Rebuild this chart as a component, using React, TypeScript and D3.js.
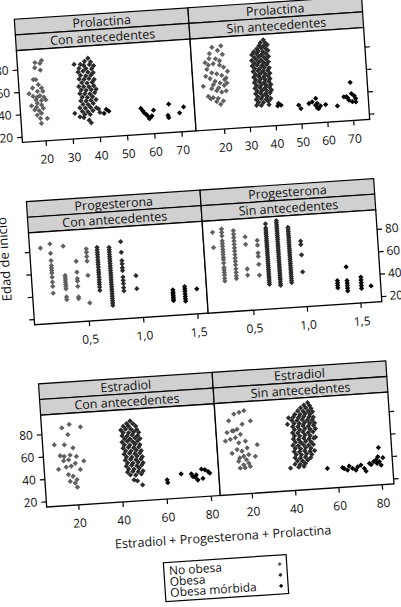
import React, { useRef, useEffect } from 'react';
import * as d3 from 'd3';

type Pt = [number, number];

// vertical stacks of points at one x value (progesterona is measured in steps)
const stack = (x: number, ys: number[]): Pt[] => ys.map(v => [x, v] as Pt);

const HORMONES = ['Prolactina', 'Progesterona', 'Estradiol'];
const ANTECEDENTES = ['Con antecedentes', 'Sin antecedentes'];
const GROUPS = ['No obesa', 'Obesa', 'Obesa mórbida'];

const TICKS_PRL = [20, 30, 40, 50, 60, 70];
const TICKS_PROG = [0.5, 1.0, 1.5];
const TICKS_EST = [20, 40, 60, 80];
const TICKS_EDAD = [20, 40, 60, 80];

// axis limits of each panel (lattice "free" x scales)
const X_LIMITS: [number, number][] = [
    [11.5, 75.4], [9.2, 76.4],
    [0.0, 1.6], [0.08, 1.7],
    [5.7, 84.3], [5.5, 85.6],
];
const Y_LIMITS: [number, number] = [15, 97];

// ---- Prolactina, con antecedentes
const prlConNoObesa: Pt[] = [[18, 85.2], [20.5, 86.9], [19.8, 84.3], [17.8, 80.7], [19.8, 78.3], [17, 70.3], [17.9, 70.1], [19.8, 62.3], [15.1, 57.9], [18.2, 59.5], [20.2, 59.2], [16.5, 55.3], [18, 54.4], [19, 55.5], [20.5, 54], [17.5, 52.1], [19.5, 51.2], [21.1, 51.5], [15.7, 47], [17.9, 49], [19.4, 47.3], [17.5, 45.5], [18.4, 42.3], [19.2, 39.8], [17.6, 38.5], [21.2, 34.9], [18.7, 35.3], [18.9, 30.8], [16.8, 43.2], [20, 44.2], [18.7, 65.5], [16.5, 62.8]];
const prlConObesa: Pt[] = [[37.5, 86], [36.2, 83.5], [38.4, 82.6], [32.3, 81.3], [34.6, 81], [35.8, 79.8], [37.9, 80.2], [39.4, 79], [34, 77.5], [36.5, 77], [38.6, 76.4], [33.6, 74.2], [35.4, 74.8], [37.2, 73.6], [39.1, 73], [34.4, 71.2], [36.3, 70.4], [38.2, 70.8], [33.8, 68], [35.6, 67.5], [37.4, 67.8], [39.3, 66.8], [34.7, 64.6], [36.6, 64], [38.5, 64.4], [33.5, 61.4], [35.3, 61], [37.2, 60.6], [39, 61.2], [34.3, 58.2], [36.1, 57.6], [38, 57.8], [39.8, 58], [33.7, 55], [35.5, 54.6], [37.4, 54.2], [39.2, 55.1], [34.5, 51.8], [36.4, 51.2], [38.3, 51.5], [33.9, 48.6], [35.8, 48], [37.6, 48.3], [39.5, 48.8], [34.6, 45.2], [36.5, 44.8], [38.4, 45.6], [33.4, 42.4], [35.4, 41.8], [37.3, 42.2], [39.4, 41.5], [34.2, 39], [36.2, 38.6], [38.1, 39.2], [35, 36.2], [37, 36], [34.6, 33.4], [36.5, 30.8], [37.2, 28.4], [40.2, 40.4], [40.6, 37.2], [31.4, 37.7], [33.2, 34.4]];
const prlConMorbida: Pt[] = [[43, 39.5], [43.9, 37.7], [42.1, 36], [55.7, 38.3], [56.4, 36], [56.8, 34.1], [57.5, 32.8], [58.1, 30.9], [58.9, 29.5], [59.6, 30.9], [60.3, 35.9], [58.6, 28.6], [66, 40.4], [65.5, 30.5], [65.7, 28.4], [69.8, 32], [71.4, 37.1]];

// ---- Prolactina, sin antecedentes
const prlSinNoObesa: Pt[] = [[17.4, 88.3], [20.9, 89.2], [19.5, 85.4], [16.3, 82.9], [21.3, 81.5], [14.4, 75.1], [15.6, 72.8], [17.5, 73.7], [19.9, 72.1], [21.4, 70.1], [22.8, 66.2], [14.9, 69], [16.7, 65.7], [18.6, 64.5], [20.5, 62.9], [22.1, 60.3], [15.9, 60.6], [17.8, 58], [19.7, 56.2], [21.2, 53.8], [13.1, 54.2], [16.3, 51.6], [18.2, 49.5], [20.1, 48], [21.8, 48.9], [14.8, 44.9], [16.7, 43.6], [18.6, 42.7], [20.5, 40], [19.4, 37.2], [15.7, 42.6], [17.9, 39.8], [22.3, 55.8], [14.3, 63], [18.5, 78], [20, 76], [16, 78.5], [21.5, 59], [17, 55], [19, 52]];
const prlSinObesa: Pt[] = [[37.4, 92], [36.2, 89.6], [38.1, 89.2], [35.6, 87], [37.3, 86.6], [38.8, 87.4], [34.6, 84.3], [36.4, 84.8], [38.2, 84], [33.4, 81.8], [35.2, 82.2], [37, 81.6], [38.9, 82.4], [32.6, 79.4], [34.5, 79.8], [36.3, 79], [38.1, 79.6], [33.5, 76.8], [35.3, 77.2], [37.2, 76.6], [39, 77], [32.4, 74.3], [34.2, 74.8], [36.1, 74.1], [38, 74.6], [33.3, 71.9], [35.1, 72.3], [37, 71.6], [38.8, 72.2], [32.5, 69.4], [34.4, 69.8], [36.2, 69.2], [38.1, 69.7], [33.4, 67], [35.3, 66.6], [37.1, 67.2], [39, 66.8], [32.7, 64.4], [34.6, 64.8], [36.5, 64.2], [38.3, 64.6], [33.6, 61.8], [35.5, 62.2], [37.3, 61.6], [39.1, 62], [32.8, 59.3], [34.7, 59.7], [36.6, 59.1], [38.4, 59.5], [33.5, 56.9], [35.4, 57.2], [37.2, 56.6], [39, 57], [32.9, 54.4], [34.8, 54.8], [36.7, 54.2], [38.5, 54.6], [33.7, 51.8], [35.6, 52.2], [37.4, 51.6], [39.2, 52], [33, 49.3], [34.9, 49.7], [36.8, 49.1], [38.6, 49.5], [33.8, 46.8], [35.7, 47.2], [37.5, 46.6], [39.3, 47], [33.1, 44.4], [35, 44.8], [36.9, 44.1], [38.7, 44.5], [33.9, 41.8], [35.8, 42.2], [37.6, 41.6], [33.2, 39.3], [35.1, 39.6], [37, 39], [38.8, 39.4], [34, 36.8], [35.9, 36.4], [37.8, 37], [33.2, 34.2], [35, 33.8], [38, 34]];
const prlSinMorbida: Pt[] = [[41.7, 34.6], [42.6, 32.9], [41.3, 32.5], [49.4, 31.8], [50.2, 28.7], [53.4, 32.7], [54.7, 34], [56.1, 36.8], [55.9, 30.8], [56.6, 32.3], [57, 27.6], [57.8, 29.9], [56.5, 28.3], [59.8, 30.8], [64.3, 28.9], [69.8, 49.1], [70, 39], [68, 36.5], [67, 36.6], [71, 36.9], [71.5, 34.4], [70.2, 31.7], [71.5, 31.4], [68.9, 33.3], [68.4, 35.3]];

// ---- Progesterona, con antecedentes
const progConNoObesa: Pt[] = [
    ...stack(0.10, [82.8]),
    ...stack(0.19, [86, 77.6, 71, 66.7, 64.6, 62.3, 60, 56.3, 51.9, 48, 42]),
    ...stack(0.31, [83.2, 57, 55, 53.1, 51.1, 49, 47.2, 45.1, 37.8, 35.4]),
    ...stack(0.42, [69, 59.3, 53.4, 51.3, 46.6, 37.1, 35.6]),
    ...stack(0.52, [79.4, 76.4, 72.6, 68.5, 55.7, 31.2]),
];
const progConObesa: Pt[] = [
    ...stack(0.62, [80.1, 77.8, 75.7, 73.6, 71.3, 68.9, 66.8, 64.8, 62.4, 60, 58, 55.9, 53.5, 51.2, 49.1, 47, 44.6, 41.7]),
    ...stack(0.73, [79.4, 77.3, 75.3, 73.2, 71.1, 69.1, 67, 64.9, 62.8, 60.8, 58.7, 56.6, 54.6, 52.5, 50.4, 48.3, 46.3, 44.2, 42.1, 40.1, 38, 35.9, 33.8, 31.8, 29.7, 27.6]),
    ...stack(0.84, [83.8, 74.3, 66.9, 64, 60.5, 58, 52.2, 49.2, 46.3, 42.7, 39.8]),
    ...stack(0.96, [52.7, 41]),
];
const progConMorbida: Pt[] = [
    ...stack(1.29, [37.8, 35.7, 34.2, 32.7, 31.2, 29.8, 28.3]),
    ...stack(1.40, [40, 37.9, 35.9, 33.5, 31.2, 29.1, 27]),
    ...stack(1.51, [37.3]),
];

// ---- Progesterona, sin antecedentes
const progSinNoObesa: Pt[] = [
    ...stack(0.17, [86.7, 73]),
    ...stack(0.255, [89.1, 86.1, 83, 78.5, 76, 73.6, 70.9, 68.7, 66.3, 63.8, 61.7, 58.7, 54.7, 52.6, 50.4, 48, 44.9, 42.5]),
    ...stack(0.364, [86.9, 83.8, 80.8, 77.7, 74.7, 71.6, 68.6, 65.5, 62.5, 59.5, 56.4, 52.7, 49.7, 46.6, 44.2]),
    ...stack(0.47, [80.7, 74, 52, 46.5]),
    ...stack(0.58, [76.9, 72.6, 65.6, 62.6, 55.5, 45.8]),
];
const progSinObesa: Pt[] = [
    ...stack(0.667, [91, 87.4, 85.5, 83.6, 81.8, 79.9, 78, 76.2, 74.3, 72.4, 70.6, 68.7, 66.8, 65, 63.1, 61.2, 59.4, 57.5, 55.6, 53.8, 51.9, 50, 48.2, 46.3, 44.4, 42.6, 40.7, 38.8, 37]),
    ...stack(0.77, [93.3, 91.4, 89.5, 87.6, 85.8, 83.9, 82, 80.1, 78.3, 76.4, 74.5, 72.6, 70.8, 68.9, 67, 65.1, 63.3, 61.4, 59.5, 57.6, 55.8, 53.9, 52, 50.1, 48.3, 46.4, 44.5, 42.6, 40.8, 38.9, 37, 35.4]),
    ...stack(0.874, [86.6, 84.7, 82.8, 80.9, 79, 77.1, 75.2, 73.3, 71.4, 69.5, 67.6, 65.7, 63.8, 61.9, 60, 58.1, 56.2, 54.3, 52.4, 50.5, 48.6, 46.7, 44.8, 42.9, 41, 39.1, 37.2]),
    ...stack(0.983, [73.6, 70.6, 61.4, 46.2]),
];
const progSinMorbida: Pt[] = [
    ...stack(1.30, [36.4, 34.2, 32, 29.8]),
    ...stack(1.39, [48, 35.8, 33.5, 31.2, 29, 26.6]),
    ...stack(1.52, [38, 35.5, 33, 30.5, 28]),
    ...stack(1.61, [29.7]),
];

// ---- Estradiol, con antecedentes
const estConNoObesa: Pt[] = [[14.9, 84.5], [18.3, 87.1], [23.3, 84.3], [17.4, 78.1], [11, 69.8], [15.5, 69.2], [19.3, 66], [13.3, 59.8], [15.1, 58.9], [17.8, 59.8], [20.6, 58.2], [23.8, 53.8], [12.2, 47.8], [15.7, 49.4], [18, 50], [19.9, 52.2], [22, 46.4], [16.5, 42.6], [18.5, 40.8], [17.1, 36.4], [20.2, 37.5], [19.3, 34.6], [20.2, 30.8], [14.7, 55], [17, 55.6]];
const estConObesa: Pt[] = [[45.8, 86.6], [44.2, 84.4], [47, 84], [42.6, 82.2], [45, 82], [48.2, 81.6], [41.4, 79], [43.6, 79.6], [46, 79.2], [48.6, 78.8], [42.4, 76.6], [44.8, 76.2], [47.2, 76.8], [49.4, 76], [41.8, 73.8], [44, 73.4], [46.4, 74], [48.8, 73.2], [42.8, 71], [45.2, 70.6], [47.6, 71.2], [49.8, 70.4], [41.6, 68.2], [44, 68.6], [46.4, 68], [48.6, 68.4], [42.6, 65.6], [45, 65.2], [47.4, 65.8], [49.6, 65], [41.9, 62.8], [44.3, 63.2], [46.7, 62.6], [49, 63], [43, 60.2], [45.4, 59.8], [47.8, 60.4], [50, 59.6], [42.2, 57.4], [44.6, 57.8], [47, 57.2], [49.3, 57.6], [43.2, 54.8], [45.6, 54.4], [48, 55], [50.3, 54.2], [42.5, 52], [44.9, 52.4], [47.3, 51.8], [49.6, 52.2], [43.5, 49.4], [45.9, 49], [48.3, 49.6], [50.5, 48.8], [42.8, 46.6], [45.2, 47], [47.6, 46.4], [49.8, 46.8], [43.8, 44], [46.2, 43.6], [48.6, 44.2], [43.2, 41.2], [45.6, 41.6], [48, 41], [50.2, 41.4], [44.4, 38.6], [46.8, 38.2], [49.4, 38.8], [45.9, 34], [47.4, 32.9], [49.6, 29]];
const estConMorbida: Pt[] = [[60.8, 32], [61, 29.5], [67.3, 36.6], [71.9, 36], [72.5, 33.5], [73.6, 32.7], [74.7, 30.1], [74.1, 34.8], [76.6, 39.6], [78.1, 38.8], [79.5, 37.1], [77, 31.3], [80.2, 35.5]];

// ---- Estradiol, sin antecedentes
const estSinNoObesa: Pt[] = [[11.6, 80.9], [14.2, 86.6], [16.6, 87.8], [18.9, 89], [21.6, 79.6], [10.5, 70.5], [12.9, 71.7], [15.2, 72.9], [16.6, 68.2], [9.5, 63], [11.8, 64.3], [14.2, 65.5], [15.6, 60.8], [18.7, 61.9], [14.6, 54.9], [16.8, 53.1], [19.3, 55.7], [24, 58], [12.2, 51.8], [17.5, 48.5], [19.8, 49.7], [22.8, 47.8], [15, 44.2], [17.2, 40.9], [19.6, 42.1], [15.5, 38.2], [17.8, 38], [20.2, 39.1], [13.6, 71.6], [17.7, 77.1], [15.6, 47.2], [18.6, 45.4]];
const estSinObesa: Pt[] = [[48.4, 92.4], [46.6, 90.4], [49.2, 89.6], [45, 88.2], [47.4, 87.8], [49.8, 87], [43.6, 85.6], [46, 85.2], [48.4, 84.8], [50.4, 84.2], [42.2, 82.8], [44.6, 82.4], [47, 82.8], [49.2, 82], [39.2, 80], [41.4, 80.4], [43.8, 79.8], [46.2, 80.2], [48.6, 79.6], [50.6, 79.2], [38.5, 74.3], [40.6, 77.6], [43, 77.2], [45.4, 77.6], [47.8, 77], [50, 76.8], [41.6, 74.8], [44, 74.4], [46.4, 74.8], [48.8, 74.2], [51, 74], [40.8, 72], [43.2, 71.6], [45.6, 72.2], [48, 71.4], [50.4, 71.8], [41.6, 69.2], [44, 68.8], [46.4, 69.4], [48.8, 68.6], [51.2, 68.8], [40.6, 66.4], [43, 66], [45.4, 66.6], [47.8, 65.8], [50, 66.2], [41.4, 63.6], [43.8, 63.2], [46.2, 63.8], [48.6, 63], [51, 61.2], [40.8, 60.8], [43.2, 60.4], [45.6, 61], [48, 60.2], [50.2, 60.6], [41.6, 58], [44, 57.6], [46.4, 58.2], [48.8, 57.4], [40.4, 55.2], [42.8, 54.8], [45.2, 55.4], [47.6, 54.6], [49.8, 55], [41.4, 52.4], [43.8, 52], [46.2, 52.6], [48.6, 51.8], [40.8, 49.6], [43.2, 49.2], [45.6, 49.8], [48, 49], [50.2, 49.4], [41.6, 46.8], [44, 46.4], [46.4, 47], [48.8, 46.2], [41, 44], [43.4, 43.6], [45.8, 44.2], [48.2, 43.4], [42, 41.2], [44.4, 40.8], [46.8, 41.4], [40.8, 38.4], [43.2, 38], [45.6, 38.6], [38.6, 35.2], [42.4, 35.6], [44.8, 36]];
const estSinMorbida: Pt[] = [[55.5, 32.7], [63.2, 31.7], [65.6, 33.6], [67.1, 31.3], [68.6, 29.6], [69.5, 32.4], [71, 33.8], [72.5, 30.6], [73.2, 28.1], [75, 34.8], [75.7, 33.6], [77, 36], [78.1, 37.4], [79, 40.2], [79.6, 35.7], [80.3, 32.6], [79.6, 48.3], [81.3, 39], [78.5, 34.3], [64.7, 30], [62.5, 32.6]];

const COLORS = ['#606060', '#2b2b2b', '#050505'];

const App: React.FC = () => {
    const svgRef = useRef<SVGSVGElement | null>(null);

    useEffect(() => {
        const width = 401;
        const height = 607;
        const font = "'Open Sans', sans-serif";

        d3.select(svgRef.current).selectAll('*').remove();
        const svg = d3.select(svgRef.current)
            .attr('width', width)
            .attr('height', height)
            .style('background', '#fff');

        // layout of the (unrotated) trellis; the scanned page sits a bit tilted
        const left = 14.3;
        const top0 = 19.3;
        const panelW = 174;
        const stripH = 15.7;
        const plotH = 92;
        const rowStep = 182.7;

        const g = svg.append('g')
            .attr('transform', `rotate(-3.8, ${left}, ${top0})`);

        const rows = [
            { ticks: TICKS_PRL, fmt: (d: number) => String(d), series: [[prlConNoObesa, prlConObesa, prlConMorbida], [prlSinNoObesa, prlSinObesa, prlSinMorbida]] },
            { ticks: TICKS_PROG, fmt: (d: number) => d.toFixed(1).replace('.', ','), series: [[progConNoObesa, progConObesa, progConMorbida], [progSinNoObesa, progSinObesa, progSinMorbida]] },
            { ticks: TICKS_EST, fmt: (d: number) => String(d), series: [[estConNoObesa, estConObesa, estConMorbida], [estSinNoObesa, estSinObesa, estSinMorbida]] },
        ];

        // small diamonds: a square symbol turned by 45 degrees
        const marker = d3.symbol().type(d3.symbolSquare).size(14)();
        const legendMarker = d3.symbol().type(d3.symbolSquare).size(9)();

        const styleAxis = (ax: d3.Selection<SVGGElement, unknown, null, undefined>) => {
            ax.select('.domain').remove();
            ax.selectAll('.tick line').attr('stroke', '#000').attr('stroke-width', 1.2);
            ax.selectAll('.tick text')
                .attr('fill', '#111')
                .style('font-family', font)
                .style('font-size', '12px');
        };

        rows.forEach((row, r) => {
            const top = top0 + r * rowStep;
            const plotTop = top + 2 * stripH;
            const plotBottom = plotTop + plotH;

            const yScale = d3.scaleLinear().domain(Y_LIMITS).range([plotBottom, plotTop]);

            row.series.forEach((groups, c) => {
                const x0 = left + c * panelW;
                const xScale = d3.scaleLinear().domain(X_LIMITS[r * 2 + c]).range([x0, x0 + panelW]);

                // strips
                [HORMONES[r], ANTECEDENTES[c]].forEach((label, k) => {
                    g.append('rect')
                        .attr('x', x0)
                        .attr('y', top + k * stripH)
                        .attr('width', panelW)
                        .attr('height', stripH)
                        .attr('fill', '#d0d0d0')
                        .attr('stroke', '#000')
                        .attr('stroke-width', 1.2);
                    g.append('text')
                        .attr('x', x0 + panelW / 2)
                        .attr('y', top + k * stripH + stripH / 2)
                        .attr('dy', '0.36em')
                        .attr('text-anchor', 'middle')
                        .style('font-family', font)
                        .style('font-size', '12.5px')
                        .attr('fill', '#111')
                        .text(label);
                });

                // panel frame
                g.append('rect')
                    .attr('x', x0)
                    .attr('y', plotTop)
                    .attr('width', panelW)
                    .attr('height', plotH)
                    .attr('fill', '#fff')
                    .attr('stroke', '#000')
                    .attr('stroke-width', 1.3);

                // points
                groups.forEach((pts, s) => {
                    g.append('g')
                        .selectAll('path')
                        .data(pts)
                        .join('path')
                        .attr('d', marker)
                        .attr('transform', d => `translate(${xScale(d[0])},${yScale(d[1])}) rotate(45)`)
                        .attr('fill', COLORS[s]);
                });

                // x axis
                const xAxis = d3.axisBottom(xScale)
                    .tickValues(row.ticks)
                    .tickSize(5)
                    .tickPadding(9)
                    .tickFormat(d => row.fmt(d as number));
                const ax = g.append('g')
                    .attr('transform', `translate(0,${plotBottom})`)
                    .call(xAxis);
                styleAxis(ax);
            });

            // y axes alternate sides: labels left on rows 1 and 3, right on row 2
            const withLabels = (d: d3.NumberValue) => String(d);
            const noLabels = () => '';
            const leftAxis = d3.axisLeft(yScale)
                .tickValues(TICKS_EDAD)
                .tickSize(5)
                .tickPadding(4)
                .tickFormat(r === 1 ? noLabels : withLabels);
            const rightAxis = d3.axisRight(yScale)
                .tickValues(TICKS_EDAD)
                .tickSize(5)
                .tickPadding(3)
                .tickFormat(r === 1 ? withLabels : noLabels);
            styleAxis(g.append('g').attr('transform', `translate(${left},0)`).call(leftAxis));
            styleAxis(g.append('g').attr('transform', `translate(${left + 2 * panelW},0)`).call(rightAxis));
        });

        // axis titles
        g.append('text')
            .attr('x', left + panelW)
            .attr('y', top0 + 2 * rowStep + 2 * stripH + plotH + 46)
            .attr('text-anchor', 'middle')
            .style('font-family', font)
            .style('font-size', '12.6px')
            .attr('fill', '#111')
            .text('Estradiol + Progesterona + Prolactina');

        g.append('text')
            .attr('transform', `translate(-7, 258) rotate(-90)`)
            .attr('text-anchor', 'middle')
            .style('font-family', font)
            .style('font-size', '13px')
            .attr('fill', '#111')
            .text('Edad de inicio');

        // legend
        const legend = g.append('g').attr('transform', 'translate(127, 571.4)');
        legend.append('rect')
            .attr('width', 123)
            .attr('height', 39)
            .attr('fill', '#fff')
            .attr('stroke', '#000')
            .attr('stroke-width', 1.2);
        GROUPS.forEach((name, i) => {
            legend.append('text')
                .attr('x', 5)
                .attr('y', 12.6 + i * 11)
                .style('font-family', font)
                .style('font-size', '12px')
                .attr('fill', '#111')
                .text(name);
            legend.append('path')
                .attr('d', legendMarker)
                .attr('transform', `translate(116,${9 + i * 11}) rotate(45)`)
                .attr('fill', COLORS[i]);
        });
    }, []);

    return (
        <svg ref={svgRef} style={{ position: 'absolute', left: 0, top: 0 }}></svg>
    );
};

export default App;
